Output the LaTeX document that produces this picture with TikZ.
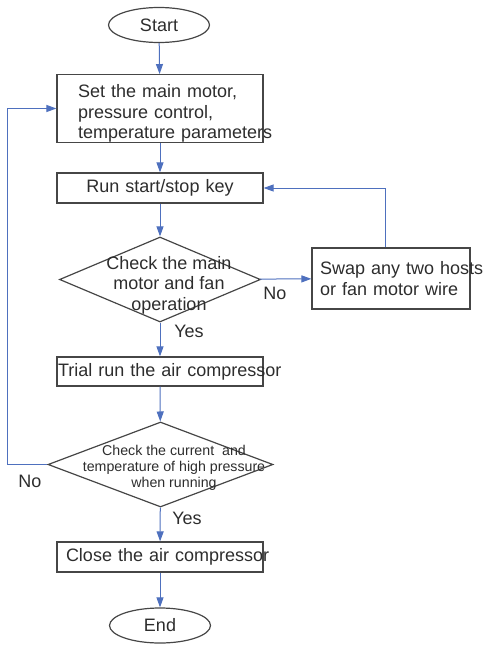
\documentclass[tikz,border=0pt]{standalone}
\usepackage{fontspec}
\setmainfont{Liberation Sans}
\usepackage{xcolor}
\usepackage{tikz}
\usetikzlibrary{shapes.geometric,arrows.meta,positioning,calc}

\definecolor{flowblue}{RGB}{78,112,190}
\definecolor{edgegray}{RGB}{70,70,70}
\definecolor{inkgray}{RGB}{45,45,45}

\begin{document}
\begin{tikzpicture}[
    x=1pt, y=-1pt,
    font=\fontsize{18}{20.5}\selectfont, text=inkgray,
    terminal/.style={ellipse, draw=edgegray, line width=1.2pt, minimum width=101pt, minimum height=35pt, inner sep=0pt},
    process/.style={rectangle, draw=edgegray, line width=1.2pt, minimum width=206pt, minimum height=30pt, inner sep=0pt, text width=204pt, align=center},
    decision/.style={diamond, draw=edgegray, line width=1.2pt, inner sep=0pt},
    arrow/.style={-{Triangle[length=10pt,width=7pt]}, draw=flowblue, line width=1pt}
]
\useasboundingbox (0,0) rectangle (484,645);

% Main column
\node[terminal] (start) at (159,25) {Start};
\node[process, minimum height=57pt, text width=164pt, align=left] (setpar) at (160,108.5) {\rule{0pt}{23pt}\mbox{Set the main motor,}\\\mbox{pressure control,}\\\mbox{temperature parameters}};
\node[process] (runkey) at (160,188) {Run start/stop key};
\node[decision, minimum width=201pt, minimum height=85pt] (chkmotor) at (160,279.5) {};
\node[process, minimum height=29pt] (trial) at (160,371.5) {\mbox{Trial run the air compressor}};
\node[decision, minimum width=225pt, minimum height=85pt] (chkcur) at (160.5,464.5) {};
\node[process, text width=188pt] (close) at (160,557) {\mbox{Close the air compressor}};
\node[terminal] (end) at (160,625.5) {End};

% Side box
\node[rectangle, draw=edgegray, line width=1.2pt, minimum width=158pt, minimum height=61pt, inner sep=0pt, text width=142pt, align=left] (swap) at (391,278.5) {\mbox{Swap any two hosts}\\\mbox{or fan motor wire}};

% Texts of the decisions
\node[align=center] (chkmotortxt) at (169,285) {Check the main\\motor and fan\\operation};
\node[align=center, font=\fontsize{14.2}{16}\selectfont] (chkcurtxt) at (174,468) {Check the current\ \ and\\temperature of high pressure\\when running};

% Labels
\node (nomotor) at (275,293) {No};
\node (yesmotor) at (189,331) {Yes};
\node (nocur) at (30,481) {No};
\node (yescur) at (187,518) {Yes};

% Arrows
\draw[arrow] (start) -- (setpar);
\draw[arrow] (setpar) -- (runkey);
\draw[arrow] (runkey) -- (chkmotor);
\draw[arrow] (chkmotor) -- (swap);
\draw[arrow] ([xshift=-6pt]swap.north) |- (runkey.east);
\draw[arrow] (chkmotor) -- (trial);
\draw[arrow] (trial) -- (chkcur);
\draw[arrow] (chkcur.west) -- ++(-40,0) |- (setpar.west);
\draw[arrow] (chkcur) -- (close);
\draw[arrow] (close) -- (end);

\end{tikzpicture}
\end{document}
